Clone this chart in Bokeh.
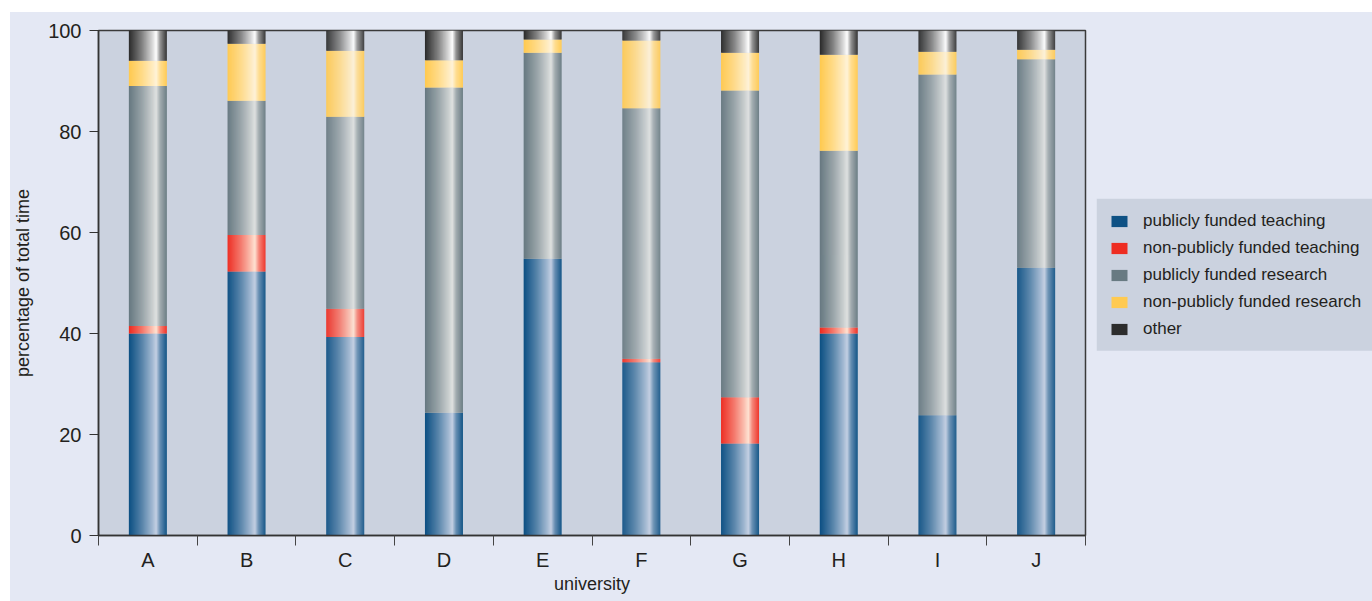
import numpy as np
from bokeh.plotting import figure
from bokeh.layouts import row
from bokeh.models import (Range1d, FixedTicker, ColumnDataSource, Legend, LegendItem,
                          BoxAnnotation)
from bokeh.embed import file_html
from bokeh.resources import INLINE

# ---- data ----
universities = ["A", "B", "C", "D", "E", "F", "G", "H", "I", "J"]
series_names = ["publicly funded teaching", "non-publicly funded teaching",
                "publicly funded research", "non-publicly funded research", "other"]
pub_teach = [40.0, 52.3, 39.3, 24.3, 54.8, 34.3, 18.2, 40.0, 23.8, 53.0]
nonpub_teach = [1.5, 7.2, 5.6, 0.0, 0.0, 0.7, 9.2, 1.2, 0.0, 0.0]
pub_research = [47.5, 26.6, 38.0, 64.4, 40.8, 49.6, 60.7, 35.0, 67.5, 41.3]
nonpub_research = [5.0, 11.3, 13.1, 5.4, 2.6, 13.4, 7.5, 19.0, 4.5, 1.9]
other = [6.0, 2.6, 4.0, 5.9, 1.8, 2.0, 4.4, 4.8, 4.2, 3.8]
y_ticks = [0, 20, 40, 60, 80, 100]

series = [pub_teach, nonpub_teach, pub_research, nonpub_research, other]

# ---- styles ----
FONT = "Liberation Sans"
TXT = "#231f20"
BG = "#e4e8f4"
PANEL = "#cbd2df"
dark_cols = ["#0b4f82", "#ee2a1f", "#667880", "#ffc94f", "#2a2a2a"]
light_cols = ["#c3cfe3", "#ffe3d2", "#dfe1e0", "#fff3d8", "#ffffff"]

def hex2rgb(h):
    h = h.lstrip("#")
    return np.array([int(h[i:i + 2], 16) for i in (0, 2, 4)], dtype=float)

def mix(c0, c1, f):
    a, b = hex2rgb(c0), hex2rgb(c1)
    c = a + (b - a) * f
    return "#%02x%02x%02x" % tuple(int(round(v)) for v in c)

prof_t = [0.0, 0.35, 0.62, 0.72, 0.82, 1.0]
prof_f = [0.0, 0.42, 0.82, 1.0, 0.5, 0.05]

BAR_W = 0.385
NSL = 38

p = figure(width=1086, height=589, output_backend="svg", toolbar_location=None,
           x_range=Range1d(-0.5, 9.5), y_range=Range1d(0, 100),
           min_border_left=87, min_border_right=11, min_border_top=18,
           min_border_bottom=66)
p.background_fill_color = PANEL
p.border_fill_color = BG
p.outline_line_color = "#3a3a3a"
p.outline_line_width = 1.5
p.xgrid.visible = False
p.ygrid.visible = False

# gradient bars drawn as thin vertical slices
sources = []
for si, vals in enumerate(series):
    L, R, B, T, C = [], [], [], [], []
    for i, v in enumerate(vals):
        if v <= 0:
            continue
        bottom = sum(series[k][i] for k in range(si))
        top = bottom + v
        x0 = i - BAR_W / 2
        dw = BAR_W / NSL
        for k in range(NSL):
            t = (k + 0.5) / NSL
            f = float(np.interp(t, prof_t, prof_f))
            L.append(x0 + k * dw)
            R.append(min(x0 + (k + 1.4) * dw, x0 + BAR_W))
            B.append(bottom)
            T.append(top)
            C.append(mix(dark_cols[si], light_cols[si], f))
    src = ColumnDataSource(dict(left=L, right=R, bottom=B, top=T, color=C))
    p.quad(left="left", right="right", bottom="bottom", top="top",
           fill_color="color", line_color=None, source=src)
    sources.append(src)

# x axis
xa = p.xaxis[0]
xa.ticker = FixedTicker(ticks=list(range(len(universities))),
                        minor_ticks=[i - 0.5 for i in range(len(universities) + 1)])
xa.major_label_overrides = {i: u for i, u in enumerate(universities)}
xa.major_tick_line_color = None
xa.major_tick_out = 0
xa.major_tick_in = 0
xa.minor_tick_line_color = "#444444"
xa.minor_tick_out = 10
xa.minor_tick_in = 0
xa.axis_line_color = "#333333"
xa.axis_line_width = 1.5
xa.major_label_text_font = FONT
xa.major_label_text_font_size = "20px"
xa.major_label_text_color = TXT
xa.major_label_standoff = 3
xa.axis_label = "university"
xa.axis_label_text_font = FONT
xa.axis_label_text_font_size = "18px"
xa.axis_label_text_font_style = "normal"
xa.axis_label_text_color = TXT
xa.axis_label_standoff = 0

# y axis
ya = p.yaxis[0]
ya.ticker = FixedTicker(ticks=y_ticks)
ya.minor_tick_line_color = None
ya.major_tick_line_color = "#333333"
ya.major_tick_out = 9
ya.major_tick_in = 0
ya.axis_line_color = "#333333"
ya.axis_line_width = 1.5
ya.major_label_text_font = FONT
ya.major_label_text_font_size = "20px"
ya.major_label_text_color = TXT
ya.major_label_standoff = 8
ya.axis_label = "percentage of total time"
ya.axis_label_text_font = FONT
ya.axis_label_text_font_size = "18px"
ya.axis_label_text_font_style = "normal"
ya.axis_label_text_color = TXT
ya.axis_label_standoff = 12

# ---- legend panel (separate figure to the right; its frame aligns with p's) ----
p2 = figure(width=276, height=589, output_backend="svg", toolbar_location=None,
            x_range=Range1d(0, 1), y_range=Range1d(0, 1),
            x_axis_location=None, y_axis_location=None,
            min_border_left=0, min_border_right=0, min_border_top=0,
            min_border_bottom=0)
p2.background_fill_color = BG
p2.border_fill_color = BG
p2.outline_line_color = None
p2.xgrid.visible = False
p2.ygrid.visible = False

# legend background box (frame of p2 spans the same 505px as p's frame)
p2.add_layout(BoxAnnotation(left=0, right=1, bottom=0.366, top=0.667,
                            fill_color=PANEL, fill_alpha=1.0, line_color=None))

items = []
for si, name in enumerate(series_names):
    r = p2.quad(left="left", right="right", bottom="bottom", top="top",
                fill_color="color", line_color=None, source=sources[si])
    r.visible = False
    items.append(LegendItem(label=name, renderers=[r], index=0))

legend = Legend(items=items, location=(13, 196))
legend.background_fill_alpha = 0.0
legend.border_line_color = None
legend.inactive_fill_alpha = 0.0
legend.label_text_font = FONT
legend.label_text_font_size = "17px"
legend.label_text_color = TXT
legend.glyph_width = 20
legend.glyph_height = 14
legend.label_standoff = 14
legend.label_height = 20
legend.spacing = 7
legend.padding = 0
legend.margin = 0
p2.add_layout(legend)

layout = row(p, p2, margin=(12, 0, 0, 10), styles={"background-color": BG})
open("out.html", "w").write(file_html(layout, INLINE))
